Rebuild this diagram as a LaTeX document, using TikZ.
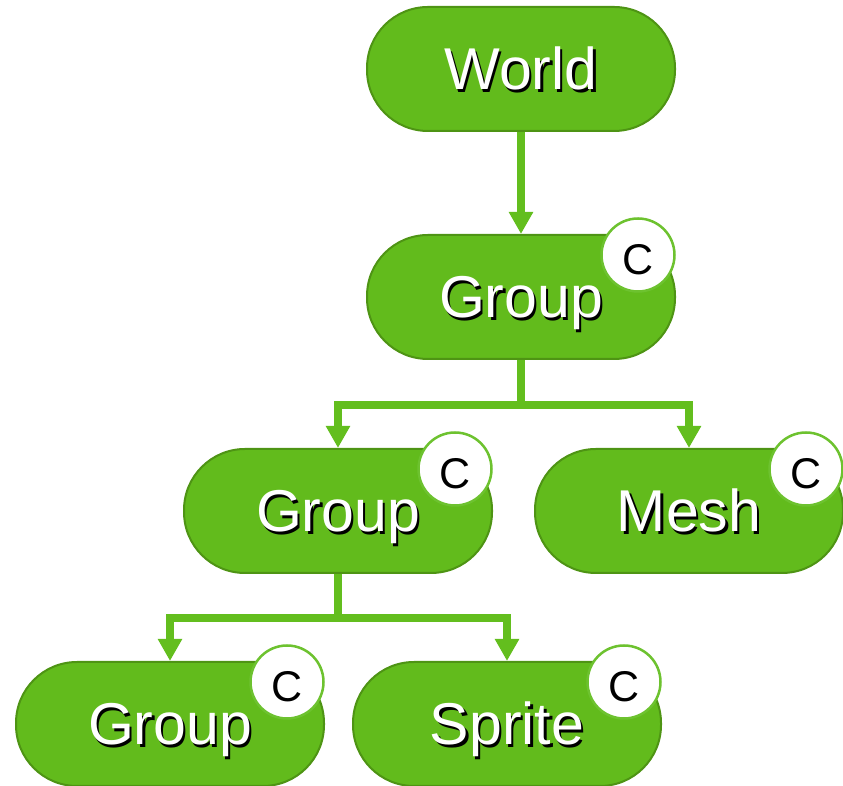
\documentclass[tikz,border=0pt]{standalone}
\usepackage{fontspec}
\setmainfont{Liberation Sans}
\usetikzlibrary{arrows.meta,calc}
\definecolor{pillfill}{HTML}{62BB1C}
\definecolor{pillborder}{HTML}{4E9414}
\definecolor{conncol}{HTML}{63BE1E}
\definecolor{badgeline}{HTML}{6DC22F}
\newcommand\shadowed[1]{\rlap{\kern2.4pt\raisebox{-2.4pt}{\color{black}#1}}#1}
\tikzset{
  pill/.style={draw=pillborder, line width=2pt, fill=pillfill, rounded corners=61pt,
    minimum width=308pt, minimum height=124pt, inner sep=0pt, text=white,
    font=\fontsize{59}{62}\selectfont, text height=42pt, text depth=0pt},
  badge/.style={circle, draw=badgeline, line width=2.5pt, fill=white, minimum size=73pt,
    inner sep=0pt, font=\fontsize{43}{46}\selectfont, text height=39pt, text depth=0pt},
  conn/.style={draw=conncol, line width=8pt, -{Triangle[width=23pt,length=22pt]}},
  connplain/.style={draw=conncol, line width=8pt}
}
\begin{document}
\begin{tikzpicture}[x=1pt,y=1pt]
\useasboundingbox (0,0) rectangle (843,786);
\node[pill] (world) at (521,717) {\shadowed{World}};
\node[pill] (g1) at (521,489) {\shadowed{Group}};
\node[pill] (g2) at (338,275) {\shadowed{Group}};
\node[pill] (mesh) at (689,275) {\shadowed{Mesh}};
\node[pill] (g3) at (170,62) {\shadowed{Group}};
\node[pill] (sprite) at (507,62) {\shadowed{Sprite}};
\node[badge] (b1) at ($(g1.north east)+(-38,-21)$) {C};
\node[badge] (b2) at ($(g2.north east)+(-38,-21)$) {C};
\node[badge] (b3) at ($(mesh.north east)+(-38,-21)$) {C};
\node[badge] (b4) at ($(g3.north east)+(-38,-21)$) {C};
\node[badge] (b5) at ($(sprite.north east)+(-38,-21)$) {C};
\coordinate (j1) at (521,381);
\coordinate (j2) at (338,168);
\draw[conn] (world.south) -- (g1.north);
\draw[connplain] (g1.south) -- (j1);
\draw[conn] (j1) -| (g2.north);
\draw[conn] (j1) -| (mesh.north);
\draw[connplain] (g2.south) -- (j2);
\draw[conn] (j2) -| (g3.north);
\draw[conn] (j2) -| (sprite.north);
\end{tikzpicture}
\end{document}
